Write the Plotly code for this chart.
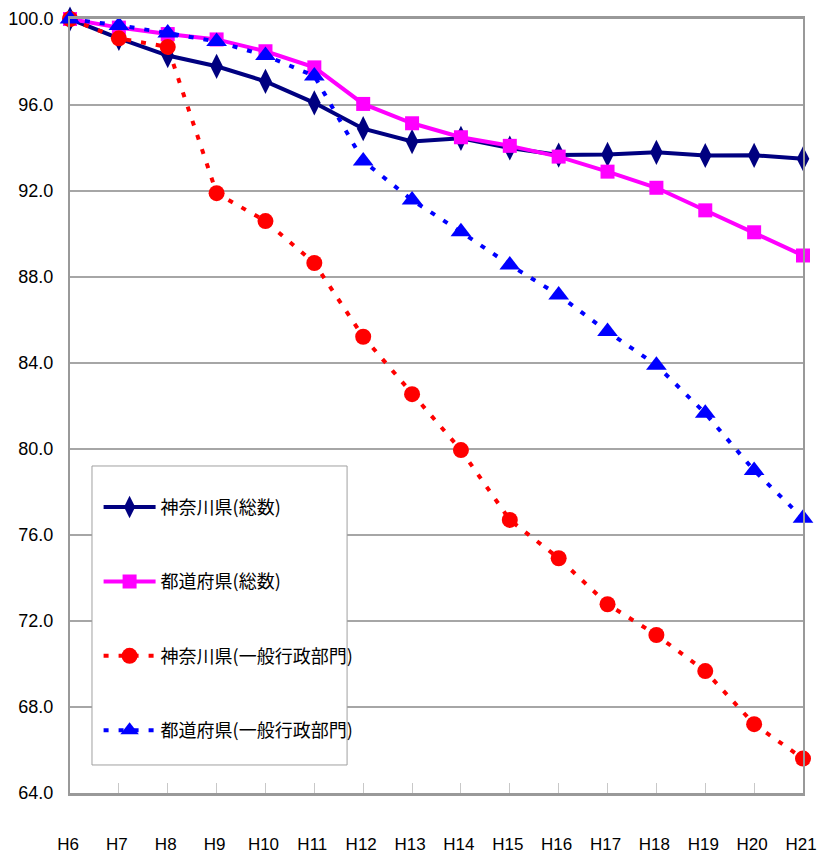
import plotly.graph_objects as go

categories = ["H6", "H7", "H8", "H9", "H10", "H11", "H12", "H13", "H14", "H15",
              "H16", "H17", "H18", "H19", "H20", "H21"]
kanagawa_total = [100.0, 99.1, 98.3, 97.8, 97.1, 96.1, 94.9, 94.3, 94.45, 94.0,
                  93.67, 93.7, 93.8, 93.65, 93.66, 93.5]
pref_total = [100.0, 99.6, 99.3, 99.05, 98.5, 97.75, 96.05, 95.15, 94.5, 94.1,
              93.6, 92.9, 92.15, 91.1, 90.08, 89.0]
kanagawa_general = [100.0, 99.1, 98.7, 91.9, 90.6, 88.65, 85.22, 82.55, 79.95, 76.7,
                    74.92, 72.78, 71.35, 69.67, 67.2, 65.6]
pref_general = [100.0, 99.7, 99.35, 98.95, 98.3, 97.35, 93.4, 91.58, 90.1, 88.56,
                87.16, 85.46, 83.9, 81.66, 79.0, 76.78]
y_ticks = [64, 68, 72, 76, 80, 84, 88, 92, 96, 100]
y_tick_labels = ["64.0", "68.0", "72.0", "76.0", "80.0", "84.0", "88.0", "92.0", "96.0", "100.0"]

names = ["神奈川県(総数)", "都道府県(総数)", "神奈川県(一般行政部門)", "都道府県(一般行政部門)"]

FONT = "Liberation Sans, Arial, sans-serif"
JFONT = "Noto Sans CJK JP, sans-serif"

fig = go.Figure()
fig.add_trace(go.Scatter(
    x=categories, y=kanagawa_total, name=names[0], mode="lines+markers",
    line=dict(color="#000080", width=4),
    marker=dict(symbol="diamond-tall", size=18, color="#000080"),
    cliponaxis=False, legendgroup="a"))
fig.add_trace(go.Scatter(
    x=categories, y=pref_total, name=names[1], mode="lines+markers",
    line=dict(color="#FF00FF", width=4),
    marker=dict(symbol="square", size=14, color="#FF00FF"),
    cliponaxis=False, legendgroup="b"))
fig.add_trace(go.Scatter(
    x=categories, y=kanagawa_general, name=names[2], mode="lines+markers",
    line=dict(color="#FF0000", width=4, dash="5px,10px"),
    marker=dict(symbol="circle", size=16, color="#FF0000"),
    cliponaxis=False, legendgroup="c"))
fig.add_trace(go.Scatter(
    x=categories, y=pref_general, name=names[3], mode="lines+markers",
    line=dict(color="#0000FF", width=4, dash="5px,10px"),
    marker=dict(symbol="triangle-up", size=18, color="#0000FF"),
    cliponaxis=False, legendgroup="d"))

# legend frame (opaque box as in the original)
fig.add_shape(type="rect", xref="paper", yref="paper",
              x0=0.030, x1=0.378, y0=0.0362, y1=0.4225,
              fillcolor="white", line=dict(color="#a0a0a0", width=1), layer="above")

fig.update_layout(
    width=817, height=859,
    margin=dict(l=70, r=14, t=19, b=66),
    paper_bgcolor="white", plot_bgcolor="white",
    font=dict(family=FONT, size=18, color="black"),
    showlegend=True,
    legend=dict(
        x=0.039, y=0.393, xanchor="left", yanchor="top",
        bgcolor="rgba(0,0,0,0)", borderwidth=0,
        font=dict(family=JFONT, size=18, color="black"),
        tracegroupgap=48, itemwidth=52,
    ),
    xaxis=dict(
        type="category", categoryorder="array", categoryarray=categories,
        range=[0, 15], showgrid=False, automargin=False,
        showline=True, linecolor="#999999", linewidth=3, mirror=True,
        ticks="inside", ticklen=10, tickcolor="#c8c8c8", tickwidth=1,
        ticklabelstandoff=34, ticklabelshift=-2,
        tickfont=dict(family=FONT, size=17),
    ),
    yaxis=dict(
        range=[64, 100], tickvals=y_ticks, ticktext=y_tick_labels,
        showgrid=True, gridcolor="#a6a6a6", gridwidth=2, automargin=False,
        showline=True, linecolor="#999999", linewidth=2, mirror=True,
        ticks="", ticklabelstandoff=11,
        tickfont=dict(family=FONT, size=18),
        zeroline=False,
    ),
)

fig.write_html("out.html")
